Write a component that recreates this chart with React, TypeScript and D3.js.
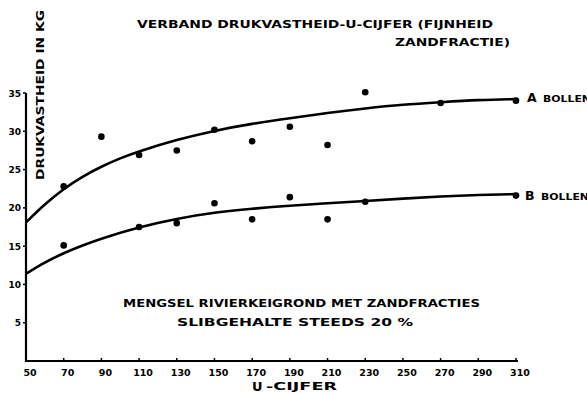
import React from "react";
import * as d3 from "d3";

// U-cijfer ticks along the bottom
const xTicks = [50, 70, 90, 110, 130, 150, 170, 190, 210, 230, 250, 270, 290, 310];
const yTicks = [5, 10, 15, 20, 25, 30, 35];

// measured points, A bollen
const aU = [70, 90, 110, 130, 150, 170, 190, 210, 230, 270, 310];
const aVal = [22.8, 29.3, 26.9, 27.5, 30.2, 28.7, 30.6, 28.2, 35.1, 33.7, 34.0];

// measured points, B bollen
const bU = [70, 110, 130, 150, 170, 190, 210, 230, 310];
const bVal = [15.1, 17.5, 18.0, 20.6, 18.5, 21.4, 18.5, 20.8, 21.6];

// hand drawn fitted curves
const curveAU = [50, 60, 70, 80, 90, 100, 110, 130, 150, 170, 190, 210, 230, 250, 270, 290, 310];
const curveAVal = [18.1, 20.5, 22.5, 24.1, 25.4, 26.5, 27.4, 28.9, 30.1, 31.0, 31.7, 32.4, 33.0, 33.5, 33.8, 34.1, 34.2];
const curveBU = [50, 60, 70, 80, 90, 110, 130, 150, 170, 190, 210, 230, 250, 270, 290, 310];
const curveBVal = [11.4, 12.9, 14.1, 15.1, 16.0, 17.5, 18.6, 19.4, 19.9, 20.3, 20.6, 20.9, 21.2, 21.5, 21.7, 21.8];

const W = 587;
const H = 394;
const font = "'DejaVu Sans', sans-serif";

const App = () => {
  const x = d3.scaleLinear().domain([50, 310]).range([26, 516]);
  const y = d3.scaleLinear().domain([0, 35]).range([361, 93]);

  const line = d3
    .line<[number, number]>()
    .x((d) => x(d[0]))
    .y((d) => y(d[1]))
    .curve(d3.curveBasis);

  const curveA = curveAU.map((u, i) => [u, curveAVal[i]] as [number, number]);
  const curveB = curveBU.map((u, i) => [u, curveBVal[i]] as [number, number]);
  const ptsA = aU.map((u, i) => [u, aVal[i]]);
  const ptsB = bU.map((u, i) => [u, bVal[i]]);

  const txt = { fontFamily: font, fontWeight: "bold" as const, fill: "#000" };
  const stretch = "spacingAndGlyphs";

  return (
    <svg
      width={W}
      height={H}
      style={{ position: "absolute", left: 0, top: 0, background: "#fff" }}
    >
      {/* title */}
      <text x={137} y={28} fontSize={11} textLength={356} lengthAdjust={stretch} {...txt}>
        VERBAND DRUKVASTHEID-U-CIJFER (FIJNHEID
      </text>
      <text x={395} y={46} fontSize={11} textLength={115} lengthAdjust={stretch} {...txt}>
        ZANDFRACTIE)
      </text>

      {/* y axis title */}
      <text
        transform="translate(44,180) rotate(-90)"
        fontSize={10.5}
        textLength={170}
        lengthAdjust={stretch}
        {...txt}
      >
        DRUKVASTHEID IN KG
      </text>

      {/* axes */}
      <line x1={x(50)} x2={x(50)} y1={y(35)} y2={y(0) + 1} stroke="#000" strokeWidth={2.2} />
      <line x1={x(50) - 1} x2={x(310) + 2} y1={y(0)} y2={y(0)} stroke="#000" strokeWidth={2.2} />

      {yTicks.map((t) => (
        <g key={"y" + t}>
          <line x1={x(50) - 3} x2={x(50)} y1={y(t)} y2={y(t)} stroke="#000" strokeWidth={1.5} />
          <text x={21} y={y(t) + 3.5} fontSize={9} textAnchor="end" {...txt}>
            {t}
          </text>
        </g>
      ))}

      {xTicks.map((t) => (
        <g key={"x" + t}>
          <line x1={x(t)} x2={x(t)} y1={y(0) - 3} y2={y(0)} stroke="#000" strokeWidth={1.5} />
          <text x={x(t) + 4} y={376} fontSize={9.5} textAnchor="middle" {...txt}>
            {t}
          </text>
        </g>
      ))}

      {/* x axis title */}
      <text x={252} y={391} fontSize={13} {...txt}>
        U
      </text>
      <text x={266} y={390} fontSize={10.5} textLength={71} lengthAdjust={stretch} {...txt}>
        -CIJFER
      </text>

      {/* curves */}
      <path d={line(curveA) || ""} fill="none" stroke="#000" strokeWidth={2.6} />
      <path d={line(curveB) || ""} fill="none" stroke="#000" strokeWidth={2.6} />

      {ptsA.map((d, i) => (
        <circle key={"a" + i} cx={x(d[0])} cy={y(d[1])} r={3.3} fill="#000" />
      ))}
      {ptsB.map((d, i) => (
        <circle key={"b" + i} cx={x(d[0])} cy={y(d[1])} r={3.3} fill="#000" />
      ))}

      {/* curve labels */}
      <text x={527} y={102} fontSize={12.5} {...txt}>
        A
      </text>
      <text x={543} y={102} fontSize={9} textLength={48} lengthAdjust={stretch} {...txt}>
        BOLLEN
      </text>
      <text x={525} y={200} fontSize={12.5} {...txt}>
        B
      </text>
      <text x={541} y={200} fontSize={9} textLength={48} lengthAdjust={stretch} {...txt}>
        BOLLEN
      </text>

      {/* notes */}
      <text x={123} y={307} fontSize={10.5} textLength={357} lengthAdjust={stretch} {...txt}>
        MENGSEL RIVIERKEIGROND MET ZANDFRACTIES
      </text>
      <text x={177} y={326} fontSize={10.5} textLength={236} lengthAdjust={stretch} {...txt}>
        SLIBGEHALTE STEEDS 20 %
      </text>
    </svg>
  );
};

export default App;
